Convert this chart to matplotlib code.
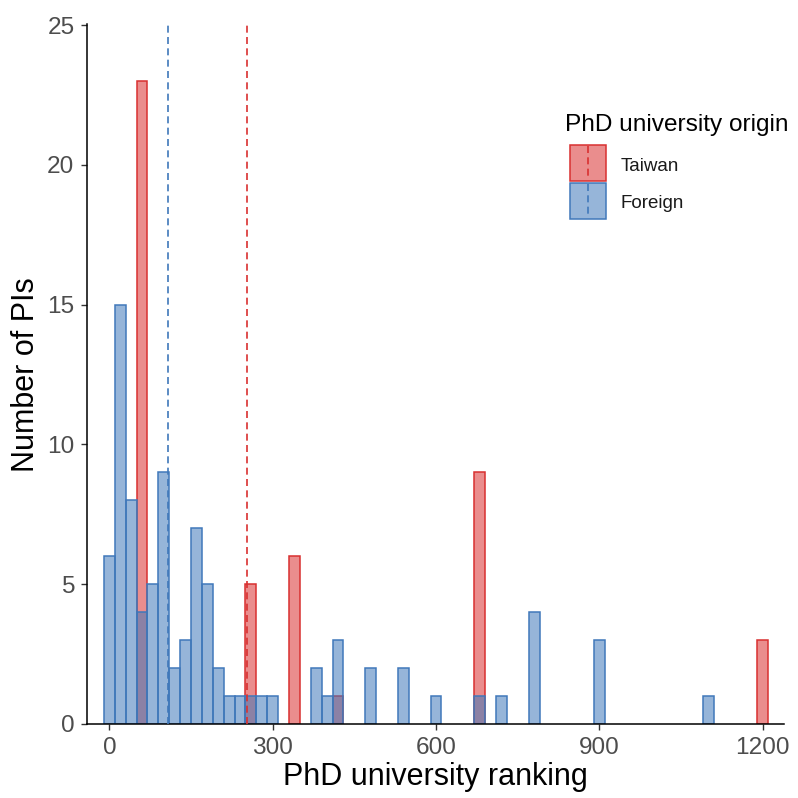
import matplotlib
matplotlib.use("Agg")
import matplotlib.pyplot as plt
from matplotlib.patches import Rectangle
from matplotlib.lines import Line2D

plt.rcParams['font.family'] = ['Liberation Sans', 'DejaVu Sans']

# ---- data (bin centres, bin width 20) ----
taiwan_bins = [60, 260, 340, 420, 680, 1200]
taiwan_counts = [23, 5, 6, 1, 9, 3]
foreign_bins = [0, 20, 40, 60, 80, 100, 120, 140, 160, 180, 200, 220, 240, 260,
                280, 300, 380, 400, 420, 480, 540, 600, 680, 720, 780, 900, 1100]
foreign_counts = [6, 15, 8, 4, 5, 9, 2, 3, 7, 5, 2, 1, 1, 1,
                  1, 1, 2, 1, 3, 2, 2, 1, 1, 1, 4, 3, 1]
taiwan_median = 252
foreign_median = 108
bin_width = 20
groups = ["Taiwan", "Foreign"]
x_ticks = [0, 300, 600, 900, 1200]
y_ticks = [0, 5, 10, 15, 20, 25]

red_edge = (0.85, 0.19, 0.19)
blue_edge = (0.25, 0.47, 0.73)
alpha = 0.55

W = H = 798
fig = plt.figure(figsize=(7.98, 7.98), dpi=100)
L, R, B, T = 87, 784, 724, 24.3
ax = fig.add_axes([L / W, 1 - B / H, (R - L) / W, (B - T) / H])

def fc(c):
    return (c[0], c[1], c[2], alpha)

ax.bar(taiwan_bins, taiwan_counts, width=bin_width, facecolor=fc(red_edge),
       edgecolor=red_edge, linewidth=1.1, zorder=2)
ax.bar(foreign_bins, foreign_counts, width=bin_width, facecolor=fc(blue_edge),
       edgecolor=blue_edge, linewidth=1.1, zorder=2)

dash = (0, (4.2, 2.6))
ax.axvline(taiwan_median, color=red_edge, lw=1.2, ls=dash, zorder=3)
ax.axvline(foreign_median, color=blue_edge, lw=1.2, ls=dash, zorder=3)

ax.set_xlim(-41, 1239)
ax.set_ylim(0, 25.03)
ax.set_xticks(x_ticks)
ax.set_yticks(y_ticks)
ax.tick_params(axis='both', labelsize=17.6, labelcolor='#4D4D4D', color='#333333',
               length=4.5, width=1.0, pad=4.5)
for s in ['top', 'right']:
    ax.spines[s].set_visible(False)
for s in ['left', 'bottom']:
    ax.spines[s].set_linewidth(1.1)
    ax.spines[s].set_color('black')

ax.set_xlabel("PhD university ranking", fontsize=22, va='baseline')
ax.xaxis.set_label_coords(0.5, (B - 785) / (B - T))
ax.set_ylabel("Number of PIs", fontsize=22, va='baseline', rotation_mode='anchor')
ax.yaxis.set_label_coords((33.5 - L) / (R - L), 0.5)

# ---- legend ----
def fx(x):
    return x / W

def fy(y):
    return 1 - y / H

fig.text(fx(565), fy(130.5), "PhD university origin", fontsize=17.6, va='baseline', ha='left')
key_tops = [145, 183]
label_baselines = [171, 207.7]
edges = [red_edge, blue_edge]
for g, top, base, ec in zip(groups, key_tops, label_baselines, edges):
    fig.add_artist(Rectangle((fx(570), fy(top + 36)), 36 / W, 36 / H, transform=fig.transFigure,
                             facecolor=fc(ec), edgecolor=ec, linewidth=1.1))
    fig.add_artist(Line2D([fx(588), fx(588)], [fy(top + 1), fy(top + 35)], transform=fig.transFigure,
                          color=ec, lw=1.2, ls=dash))
    fig.text(fx(620.5), fy(base), g, fontsize=13.5, va='baseline', ha='left', color='#1a1a1a')

fig.savefig("out.png", dpi=100, facecolor='white')
